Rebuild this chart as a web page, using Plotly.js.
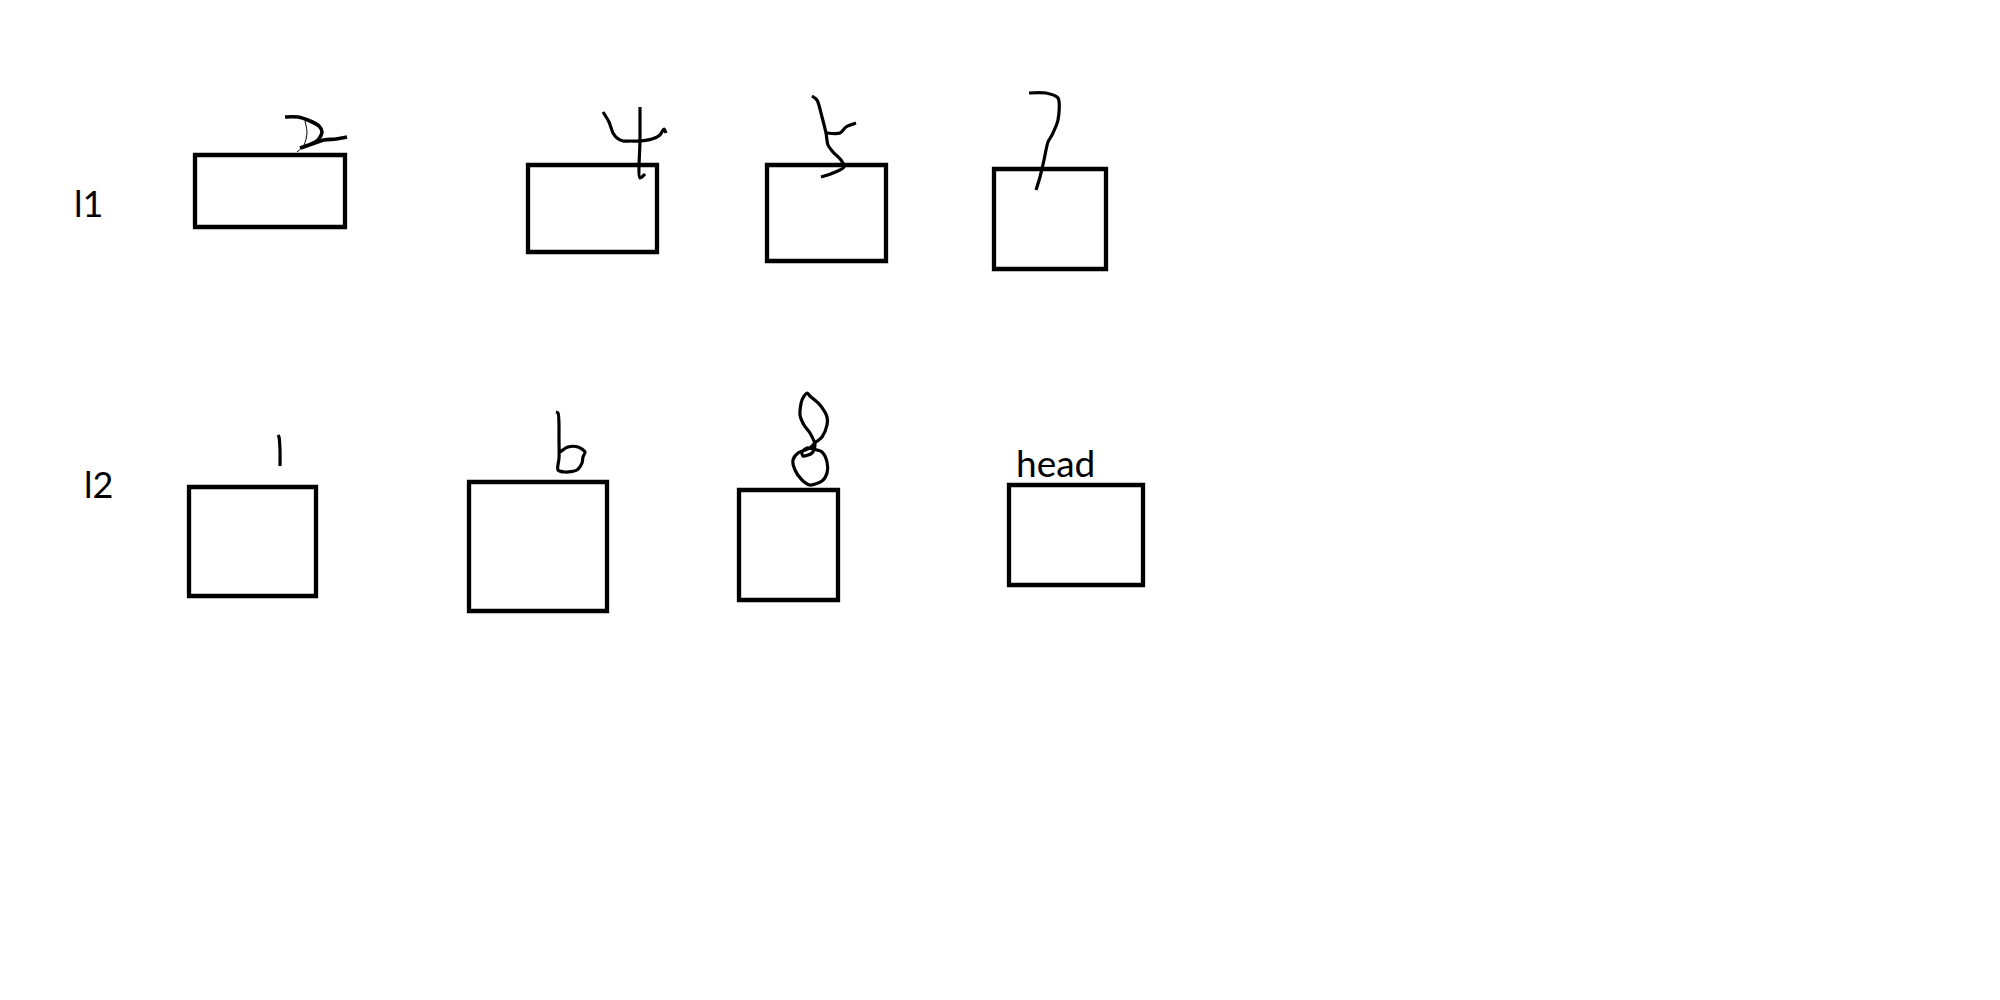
<!DOCTYPE html>
<html>
<head>
<meta charset="utf-8">
<script src="https://cdn.plot.ly/plotly-3.0.1.min.js"></script>
<style>
  html, body { margin: 0; padding: 0; background: #fff; }
</style>
</head>
<body>
<div id="sketch" style="width:2000px;height:1000px;"></div>
<script>
// ####################################################################
// # two linked lists, sketched by hand: l1 = 2 4 5 7, l2 = 1 6 8 head
// ####################################################################

// row labels
var row_names = ['l1', 'l2'];
var row_label_x = [88, 98];
var row_label_y = [203, 484];

// node boxes of l1 (centre of the pen line)
var l1_left   = [195, 528, 767, 994];
var l1_right  = [345, 657, 886, 1106];
var l1_top    = [155, 165, 165, 169];
var l1_bottom = [227, 252, 261, 269];

// node boxes of l2
var l2_left   = [189, 469, 739, 1009];
var l2_right  = [316, 607, 838, 1143];
var l2_top    = [487, 482, 490, 485];
var l2_bottom = [596, 611, 600, 585];

// the written label above the last l2 node
var head_text = 'head';
var head_x = 1014;
var head_y = 462;

// hand written digits, one stroke each (x list, y list)
var stroke_2_x = [285, 298, 310, 319, 322, 318, 309, 300, 312, 324, 336, 347];
var stroke_2_y = [117, 117, 121, 126, 132, 140, 145, 148, 144, 140, 139, 137];
var stroke_2b_x = [297, 304, 307, 305];  // thin pen slip inside the 2
var stroke_2b_y = [152, 145, 133, 121];

var stroke_4a_x = [603, 609, 613, 617, 623, 631, 640, 652, 660, 664, 666];
var stroke_4a_y = [112, 122, 133, 138, 141, 141, 141, 139, 135, 129, 133];
var stroke_4b_x = [640, 640, 640, 645];
var stroke_4b_y = [107, 140, 178, 174];

var stroke_5a_x = [812, 817, 822, 826, 828, 833, 841, 844, 833, 821];
var stroke_5a_y = [96, 100, 117, 133, 145, 152, 160, 167, 173, 177];
var stroke_5b_x = [827, 840, 846, 856];
var stroke_5b_y = [133, 133, 127, 123];

var stroke_7_x = [1029, 1046, 1058, 1058, 1052, 1048, 1044, 1040, 1036];
var stroke_7_y = [93, 93, 98, 120, 135, 142, 160, 177, 190];

var stroke_1_x = [278, 279, 280, 280];
var stroke_1_y = [435, 437, 450, 466];

var stroke_6_x = [556, 558, 559, 559, 558, 565, 577, 582, 583, 585, 578, 568, 560];
var stroke_6_y = [412, 413, 440, 458, 470, 472, 470, 463, 457, 452, 447, 447, 452];

var stroke_8_x = [807, 802, 800, 804, 810, 815, 812, 803, 802, 807, 813, 822, 827, 827, 822, 810, 802, 795, 793, 798, 810, 815, 822, 827, 827, 820, 810, 807];
var stroke_8_y = [393, 400, 415, 425, 433, 445, 453, 456, 452, 448, 449, 452, 462, 473, 481, 485, 480, 470, 460, 453, 448, 443, 437, 425, 417, 405, 396, 393];

var ink = '#000000';

// closed outline of one box (goes round past the first corner so every corner gets a join)
var box_trace = function(l, r, t, b) {
  return {
    x: [l, r, r, l, l, r],
    y: [t, t, b, b, t, t],
    type: 'scatter',
    mode: 'lines',
    line: {color: ink, width: 4.3},
    hoverinfo: 'skip'
  };
};

var pen_trace = function(xs, ys, w) {
  return {
    x: xs,
    y: ys,
    type: 'scatter',
    mode: 'lines',
    line: {color: ink, width: w, shape: 'spline', smoothing: 0.8},
    hoverinfo: 'skip'
  };
};

var data = [];
for (var i = 0; i < l1_left.length; i++) {
  data.push(box_trace(l1_left[i], l1_right[i], l1_top[i], l1_bottom[i]));
};
for (var j = 0; j < l2_left.length; j++) {
  data.push(box_trace(l2_left[j], l2_right[j], l2_top[j], l2_bottom[j]));
};

data.push(pen_trace(stroke_2_x, stroke_2_y, 3.6));
data.push(pen_trace(stroke_2b_x, stroke_2b_y, 1));
data.push(pen_trace(stroke_4a_x, stroke_4a_y, 3.2));
data.push(pen_trace(stroke_4b_x, stroke_4b_y, 3.2));
data.push(pen_trace(stroke_5a_x, stroke_5a_y, 3.2));
data.push(pen_trace(stroke_5b_x, stroke_5b_y, 3.2));
data.push(pen_trace(stroke_7_x, stroke_7_y, 3.2));
data.push(pen_trace(stroke_1_x, stroke_1_y, 3.2));
data.push(pen_trace(stroke_6_x, stroke_6_y, 3.2));
data.push(pen_trace(stroke_8_x, stroke_8_y, 3.2));

var annotations = [];
for (var k = 0; k < row_names.length; k++) {
  annotations.push({
    x: row_label_x[k], y: row_label_y[k],
    xref: 'x', yref: 'y',
    text: row_names[k],
    showarrow: false,
    xanchor: 'center', yanchor: 'middle',
    font: {family: 'Lato, "Noto Sans", sans-serif', size: 36, color: ink}
  });
};
annotations.push({
  x: head_x, y: head_y,
  xref: 'x', yref: 'y',
  text: head_text,
  showarrow: false,
  xanchor: 'left', yanchor: 'middle',
  font: {family: 'Lato, "Noto Sans", sans-serif', size: 37, color: ink}
});

var layout = {
  width: 2000,
  height: 1000,
  margin: {l: 0, r: 0, t: 0, b: 0},
  paper_bgcolor: '#ffffff',
  plot_bgcolor: '#ffffff',
  showlegend: false,
  hovermode: false,
  xaxis: {range: [0, 2000], visible: false, fixedrange: true},
  yaxis: {range: [1000, 0], visible: false, fixedrange: true},
  annotations: annotations
};

Plotly.newPlot('sketch', data, layout, {displayModeBar: false, staticPlot: true});
</script>
</body>
</html>
